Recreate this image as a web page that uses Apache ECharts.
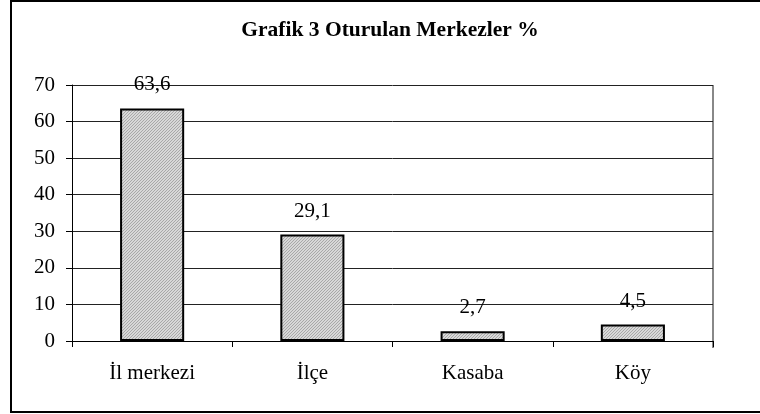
<!DOCTYPE html>
<html>
<head>
<meta charset="utf-8">
<script src="https://cdn.jsdelivr.net/npm/echarts@6/dist/echarts.min.js"></script>
<style>
  html, body { margin: 0; padding: 0; background: #fff; }
  #main { width: 760px; height: 414px; }
</style>
</head>
<body>
<div id="main"></div>
<script>
const titleText = 'Grafik 3 Oturulan Merkezler %';
const categories = ['İl merkezi', 'İlçe', 'Kasaba', 'Köy'];
const values = [63.6, 29.1, 2.7, 4.5];
const yTicks = [0, 10, 20, 30, 40, 50, 60, 70];

// fine hatched fill like the original
function makeHatch() {
  const c = document.createElement('canvas');
  c.width = 3; c.height = 3;
  const ctx = c.getContext('2d');
  ctx.fillStyle = '#d8d8d8';
  ctx.fillRect(0, 0, 3, 3);
  ctx.fillStyle = '#a8a8a8';
  for (let i = 0; i < 3; i++) ctx.fillRect(i, 2 - i, 1, 1);
  return c;
}

const font = '"Liberation Serif", "Times New Roman", serif';
const chart = echarts.init(document.getElementById('main'));

const option = {
  animation: false,
  title: {
    text: titleText,
    left: 385,
    textAlign: 'center',
    top: 14,
    textStyle: { fontFamily: font, fontSize: 21.5, fontWeight: 'bold', color: '#000' }
  },
  grid: { left: 72, right: 47, top: 85, bottom: 73 },
  xAxis: {
    type: 'category',
    data: categories,
    axisLine: { lineStyle: { color: '#000', width: 1 } },
    axisTick: { show: true, length: 6, lineStyle: { color: '#000' } },
    axisLabel: { fontFamily: font, fontSize: 21, color: '#000', margin: 22 }
  },
  yAxis: {
    type: 'value',
    min: yTicks[0],
    max: yTicks[yTicks.length - 1],
    interval: 10,
    axisLine: { show: true, lineStyle: { color: '#000', width: 1 } },
    axisTick: { show: true, length: 6, lineStyle: { color: '#000' } },
    axisLabel: { fontFamily: font, fontSize: 21, color: '#000', margin: 17 },
    splitLine: { show: true, lineStyle: { color: '#222', width: 1 } }
  },
  series: [{
    type: 'bar',
    data: values,
    barWidth: '40%',
    itemStyle: {
      color: { image: makeHatch(), repeat: 'repeat' },
      borderColor: '#000',
      borderWidth: 2
    },
    label: {
      show: true,
      position: 'top',
      distance: 13,
      fontFamily: font,
      fontSize: 21,
      color: '#000',
      formatter: p => String(p.value).replace('.', ',')
    }
  }],
  graphic: [
    {
      type: 'rect',
      shape: { x: 11, y: 1, width: 780, height: 411 },
      style: { fill: null, stroke: '#000', lineWidth: 2 },
      silent: true
    },
    {
      type: 'line',
      shape: { x1: 713, y1: 85, x2: 713, y2: 348 },
      style: { stroke: '#888', lineWidth: 2 },
      silent: true
    }
  ]
};

chart.setOption(option);
</script>
</body>
</html>
